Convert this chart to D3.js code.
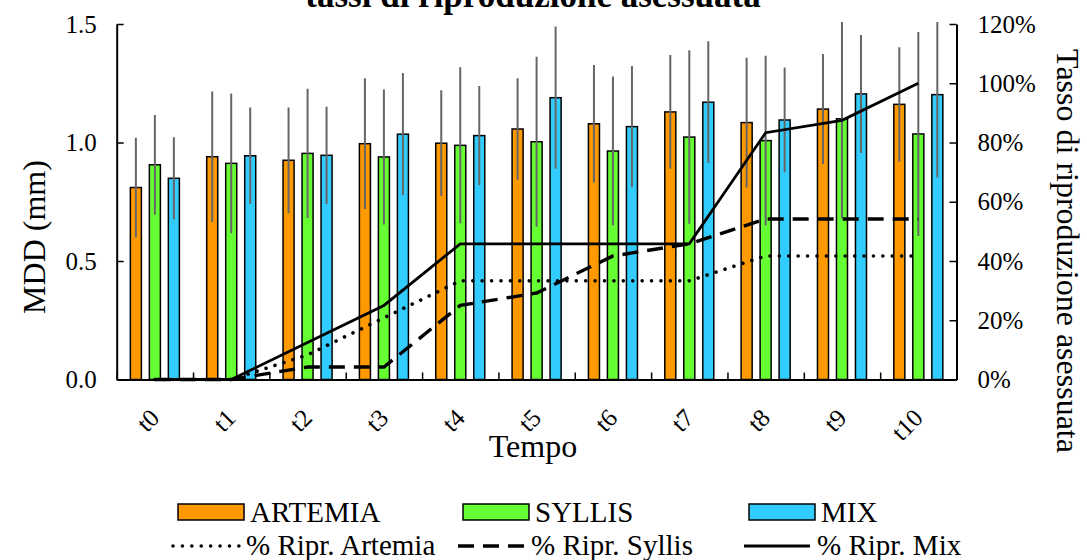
<!DOCTYPE html>
<html>
<head>
<meta charset="utf-8">
<script src="https://cdn.jsdelivr.net/npm/d3@7"></script>
<style>
  body { margin: 0; background: #fff; }
  text { font-family: "Liberation Serif", "Times New Roman", serif; fill: #000; }
</style>
</head>
<body>
<div id="chart"></div>
<script>
// categories on the x axis
var categories = ["t0", "t1", "t2", "t3", "t4", "t5", "t6", "t7", "t8", "t9", "t10"];

// mean diameter (mm) per diet
var artemia = [0.81, 0.94, 0.925, 0.995, 0.997, 1.057, 1.079, 1.129, 1.084, 1.141, 1.161];
var syllis  = [0.906, 0.912, 0.954, 0.939, 0.988, 1.003, 0.964, 1.023, 1.008, 1.100, 1.036];
var mix     = [0.849, 0.944, 0.946, 1.035, 1.029, 1.189, 1.067, 1.170, 1.095, 1.205, 1.202];

// standard deviation (error bars)
var artemiaErr = [0.21, 0.275, 0.223, 0.276, 0.223, 0.214, 0.248, 0.24, 0.274, 0.232, 0.241];
var syllisErr  = [0.21, 0.295, 0.273, 0.285, 0.329, 0.359, 0.314, 0.366, 0.358, 0.42, 0.43];
var mixErr     = [0.173, 0.204, 0.205, 0.258, 0.209, 0.30, 0.256, 0.257, 0.221, 0.249, 0.35];

// asexual reproduction rate (fraction)
var riprArtemia = [0, 0, 0.083, 0.208, 0.333, 0.333, 0.333, 0.333, 0.417, 0.417, 0.417];
var riprSyllis  = [0, 0, 0.042, 0.042, 0.25, 0.292, 0.417, 0.458, 0.542, 0.542, 0.542];
var riprMix     = [0, 0, 0.125, 0.25, 0.458, 0.458, 0.458, 0.458, 0.833, 0.875, 1.0];

// axis ticks
var leftTicks = [0, 0.5, 1.0, 1.5];
var rightTicks = [0, 0.2, 0.4, 0.6, 0.8, 1.0, 1.2];

var barSeries = [
  {name: "ARTEMIA", values: artemia, err: artemiaErr, color: "#FF9900"},
  {name: "SYLLIS", values: syllis, err: syllisErr, color: "#66FF33"},
  {name: "MIX", values: mix, err: mixErr, color: "#33CCFF"}
];
var lineSeries = [
  {name: "% Ripr. Artemia", values: riprArtemia, dash: "0.01 9.4", width: 3.6},
  {name: "% Ripr. Syllis", values: riprSyllis, dash: "16 9", width: 3.4},
  {name: "% Ripr. Mix", values: riprMix, dash: null, width: 2.8}
];

var W = 1087, H = 560;
var plot = {left: 116.7, right: 956.5, top: 24, bottom: 379.5};

var svg = d3.select("#chart").append("svg")
  .attr("width", W)
  .attr("height", H);

var x0 = d3.scaleBand()
  .domain(categories)
  .range([plot.left, plot.right]);

var x1 = d3.scaleBand()
  .domain(barSeries.map(function(d) { return d.name; }))
  .range([-28.5, 28.5])
  .paddingInner(0.34)
  .paddingOuter(0.17);

var y = d3.scaleLinear().domain([0, 1.5]).range([plot.bottom, plot.top]);
var y2 = d3.scaleLinear().domain([0, 1.2]).range([plot.bottom, plot.top]);

svg.append("clipPath").attr("id", "plotclip")
  .append("rect")
  .attr("x", plot.left).attr("y", plot.top - 2)
  .attr("width", plot.right - plot.left)
  .attr("height", plot.bottom - plot.top + 2);

// bars
var groups = svg.append("g").selectAll("g")
  .data(barSeries)
  .enter().append("g");

groups.selectAll("rect")
  .data(function(s) { return s.values.map(function(v, i) { return {s: s, v: v, i: i}; }); })
  .enter().append("rect")
  .attr("x", function(d) { return x0(categories[d.i]) + x0.bandwidth() / 2 + x1(d.s.name) + 0.75; })
  .attr("width", x1.bandwidth() - 1.5)
  .attr("y", function(d) { return y(d.v); })
  .attr("height", function(d) { return plot.bottom - y(d.v); })
  .attr("fill", function(d) { return d.s.color; })
  .attr("stroke", "#000")
  .attr("stroke-width", 1.5);

// error bars
var errG = svg.append("g").attr("clip-path", "url(#plotclip)");
barSeries.forEach(function(s) {
  errG.selectAll(null)
    .data(s.values.map(function(v, i) { return {v: v, e: s.err[i], i: i}; }))
    .enter().append("line")
    .attr("x1", function(d) { return x0(categories[d.i]) + x0.bandwidth() / 2 + x1(s.name) + x1.bandwidth() / 2; })
    .attr("x2", function(d) { return x0(categories[d.i]) + x0.bandwidth() / 2 + x1(s.name) + x1.bandwidth() / 2; })
    .attr("y1", function(d) { return y(d.v - d.e); })
    .attr("y2", function(d) { return y(d.v + d.e); })
    .attr("stroke", "#666")
    .attr("stroke-width", 2);
});

// reproduction lines
var line = d3.line()
  .x(function(d, i) { return x0(categories[i]) + x0.bandwidth() / 2; })
  .y(function(d) { return y2(d); });

lineSeries.forEach(function(s) {
  svg.append("path")
    .datum(s.values)
    .attr("d", line)
    .attr("fill", "none")
    .attr("stroke", "#000")
    .attr("stroke-width", s.width)
    .attr("stroke-linecap", s.dash && s.dash.indexOf("0.01") === 0 ? "round" : "butt")
    .attr("stroke-dasharray", s.dash);
});

// axes
var leftAxis = svg.append("g")
  .attr("transform", "translate(" + plot.left + ",0)")
  .call(d3.axisLeft(y).tickValues(leftTicks).tickFormat(d3.format(".1f"))
    .tickSizeInner(-7).tickSizeOuter(0).tickPadding(20));

var rightAxis = svg.append("g")
  .attr("transform", "translate(" + plot.right + ",0)")
  .call(d3.axisRight(y2).tickValues(rightTicks).tickFormat(d3.format(".0%"))
    .tickSizeInner(-7).tickSizeOuter(0).tickPadding(21));

var xb = d3.scaleLinear().domain([0, categories.length]).range([plot.left, plot.right]);
var bottomTicks = svg.append("g")
  .attr("transform", "translate(0," + plot.bottom + ")")
  .call(d3.axisBottom(xb).ticks(categories.length).tickFormat("")
    .tickSizeInner(-7).tickSizeOuter(0));

var bottomLabels = svg.append("g")
  .attr("transform", "translate(0," + plot.bottom + ")")
  .call(d3.axisBottom(x0).tickSize(0));
bottomLabels.select(".domain").remove();
bottomLabels.selectAll("text")
  .attr("y", 0).attr("dy", 0)
  .attr("text-anchor", "end")
  .attr("transform", "translate(6,40) rotate(-45)");

[leftAxis, rightAxis, bottomTicks].forEach(function(g) {
  g.select(".domain").attr("stroke", "#000").attr("stroke-width", 2);
  g.selectAll(".tick line").attr("stroke", "#000").attr("stroke-width", 1.5);
});
svg.selectAll(".tick text")
  .style("font-family", "Liberation Serif")
  .style("font-size", "25px")
  .attr("fill", "#000");

// titles
svg.append("text")
  .attr("x", 533).attr("y", 7)
  .attr("text-anchor", "middle")
  .style("font-size", "35px")
  .style("font-weight", "bold")
  .text("tassi di riproduzione asessuata");

svg.append("text")
  .attr("transform", "translate(533,457)")
  .attr("text-anchor", "middle")
  .style("font-size", "32px")
  .text("Tempo");

svg.append("text")
  .attr("transform", "translate(45,237) rotate(-90)")
  .attr("text-anchor", "middle")
  .style("font-size", "32px")
  .text("MDD (mm)");

svg.append("text")
  .attr("transform", "translate(1057,251) rotate(90)")
  .attr("text-anchor", "middle")
  .style("font-size", "32px")
  .text("Tasso di riproduzione asessuata");

// legend
var legendX = [178, 463, 749];
var leg1 = svg.append("g").selectAll("g")
  .data(barSeries)
  .enter().append("g")
  .attr("transform", function(d, i) { return "translate(" + legendX[i] + ",512)"; });
leg1.append("rect")
  .attr("x", 0).attr("y", -8)
  .attr("width", 66).attr("height", 16)
  .attr("fill", function(d) { return d.color; })
  .attr("stroke", "#000").attr("stroke-width", 1.5);
leg1.append("text")
  .attr("x", 72).attr("y", 9.5)
  .style("font-size", "29px")
  .text(function(d) { return d.name; });

var leg2 = svg.append("g").selectAll("g")
  .data(lineSeries)
  .enter().append("g")
  .attr("transform", function(d, i) { return "translate(" + (legendX[i] - 5) + ",546)"; });
leg2.append("line")
  .attr("x1", 0).attr("x2", 66)
  .attr("stroke", "#000")
  .attr("stroke-width", function(d) { return d.width; })
  .attr("stroke-linecap", function(d) { return d.dash && d.dash.indexOf("0.01") === 0 ? "round" : "butt"; })
  .attr("stroke-dasharray", function(d) { return d.dash; });
leg2.append("text")
  .attr("x", 73).attr("y", 9)
  .style("font-size", "29px")
  .text(function(d) { return d.name; });
</script>
</body>
</html>
